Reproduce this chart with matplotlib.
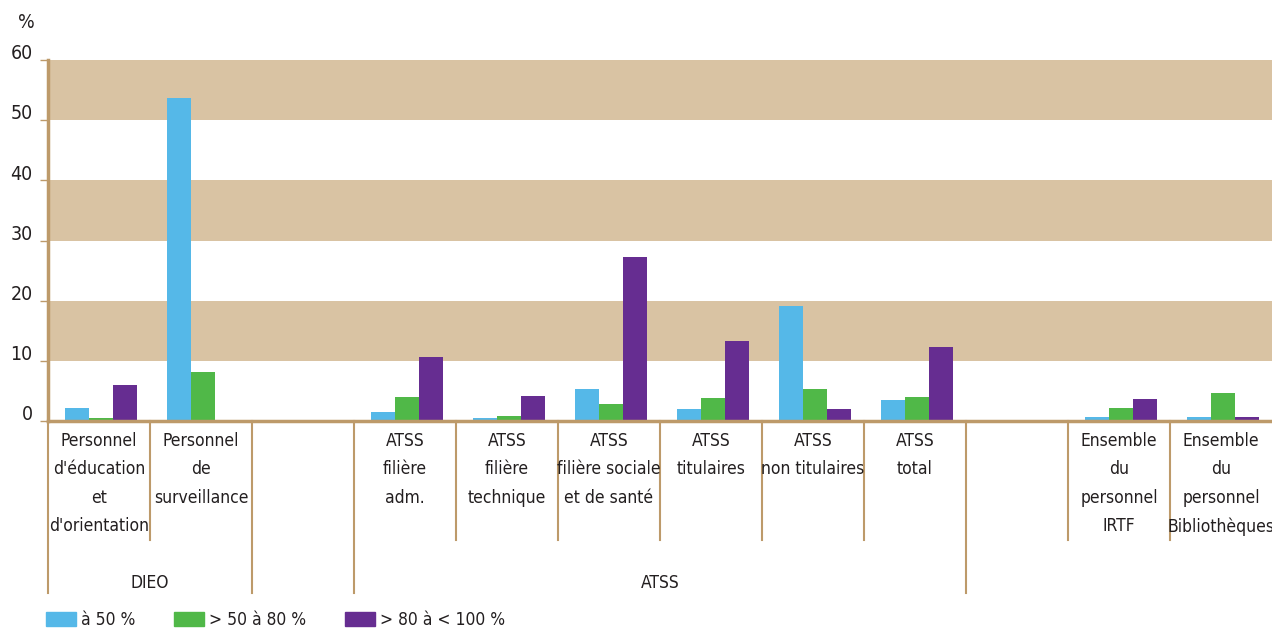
import matplotlib
matplotlib.use("Agg")
import matplotlib.pyplot as plt
from matplotlib.patches import Patch
from matplotlib.transforms import ScaledTranslation, blended_transform_factory
import numpy as np

plt.rcParams['font.family'] = ['DejaVu Sans']
plt.rcParams['font.stretch'] = 'condensed'

# data (%), one slot per category; empty slots are spacers
categories = [
    "Personnel\nd'éducation\net\nd'orientation",
    "Personnel\nde\nsurveillance",
    "",
    "ATSS\nfilière\nadm.",
    "ATSS\nfilière\ntechnique",
    "ATSS\nfilière sociale\net de santé",
    "ATSS\ntitulaires",
    "ATSS\nnon titulaires",
    "ATSS\ntotal",
    "",
    "Ensemble\ndu\npersonnel\nIRTF",
    "Ensemble\ndu\npersonnel\nBibliothèques",
]
a50 = [2.2, 53.7, 0, 1.5, 0.5, 5.3, 2.0, 19.1, 3.5, 0, 0.7, 0.7]
a50_80 = [0.5, 8.1, 0, 4.0, 0.8, 2.8, 3.8, 5.3, 4.0, 0, 2.2, 4.7]
a80_100 = [6.0, 0.2, 0, 10.6, 4.2, 27.3, 13.3, 2.0, 12.3, 0, 3.7, 0.7]
series_names = ["à 50 %", "> 50 à 80 %", "> 80 à < 100 %"]
groups = [("DIEO", 0, 1), ("ATSS", 3, 8)]

colors = ["#55b8e8", "#50b848", "#662d91"]
tan = "#d9c3a3"
axis_col = "#bd9a6a"
text_col = "#231f20"
fs = 12.5

fig = plt.figure(figsize=(12.72, 6.33), dpi=100)
ax = fig.add_axes([48 / 1272, (633 - 421) / 633, 1 - 48 / 1272, 361 / 633])

n = len(categories)
x = np.arange(n)
w = 0.235
for i, (vals, c) in enumerate(zip([a50, a50_80, a80_100], colors)):
    ax.bar(x + (i - 1) * w + 0.02, vals, width=w, color=c, zorder=3)

# tan bands
for lo in (10, 30, 50):
    ax.axhspan(lo, lo + 10, color=tan, zorder=1, lw=0)

ax.set_xlim(-0.5, n - 0.5)
ax.set_ylim(0, 60)
ax.set_yticks(range(0, 61, 10))
ax.set_xticks([])
for s in ("top", "right"):
    ax.spines[s].set_visible(False)
for s in ("left", "bottom"):
    ax.spines[s].set_color(axis_col)
    ax.spines[s].set_linewidth(2.5)
    ax.spines[s].set_zorder(4)
ax.tick_params(axis='y', colors=axis_col, length=6, width=1, labelsize=14,
               labelcolor=text_col, pad=5)
for lab in ax.get_yticklabels():
    lab.set_transform(lab.get_transform() + ScaledTranslation(0, 6 / 72, fig.dpi_scale_trans))

fig.text(18 / 1272, 1 - 22 / 633, "%", fontsize=14, color=text_col, va='center')

# category labels and separators under the axis
tr = blended_transform_factory(ax.transData, ax.transAxes)
for i, lab in enumerate(categories):
    if lab:
        ax.text(i, -0.03, lab, transform=tr, ha='center', va='top', fontsize=fs,
                color=text_col, linespacing=1.75)

short_y = -0.33
long_y = -0.476
long_edges = [-0.5, 1.5, 2.5, 8.5]
for e in np.arange(-0.5, n, 1.0):
    if e == n - 0.5:
        continue
    y_end = long_y if e in long_edges else short_y
    ax.plot([e, e], [0, y_end], transform=tr, color=axis_col, lw=1.5,
            clip_on=False, zorder=2)

for name, g0, g1 in groups:
    ax.text((g0 + g1) / 2, -0.45, name, transform=tr, ha='center', va='center',
            fontsize=fs, color=text_col)

handles = [Patch(color=c, label=s) for c, s in zip(colors, series_names)]
fig.legend(handles=handles, loc='lower left', bbox_to_anchor=(30 / 1272, -0.018),
           ncol=3, frameon=False, fontsize=fs, handlelength=1.75, handleheight=0.85,
           handletextpad=0.3, columnspacing=2.2, labelcolor=text_col)

fig.savefig("out.png", dpi=100)
